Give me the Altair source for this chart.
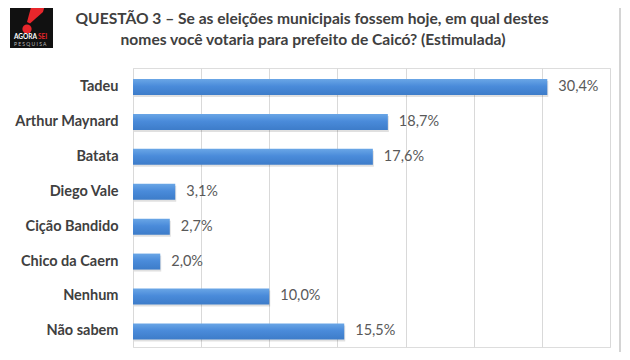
import altair as alt
import pandas as pd

categories = ["Tadeu", "Arthur Maynard", "Batata", "Diego Vale", "Cição Bandido",
              "Chico da Caern", "Nenhum", "Não sabem"]
values = [30.4, 18.7, 17.6, 3.1, 2.7, 2.0, 10.0, 15.5]
x_ticks = [0, 5, 10, 15, 20, 25, 30, 35]
title_line1 = "QUESTÃO 3 – Se as eleições municipais fossem hoje, em qual destes"
title_line2 = "nomes você votaria para prefeito de Caicó? (Estimulada)"

df = pd.DataFrame({"cat": categories, "v": values})
df["label"] = [f"{v:.1f}".replace(".", ",") + "%" for v in values]

W, H = 477, 279
PL, PT = 125, 60


def px(p):  # page x -> plot x
    return p - 8 - PL


def py(p):  # page y -> plot y
    return p - 8 - PT


x = alt.X("v:Q", scale=alt.Scale(domain=[0, 35], nice=False),
          axis=alt.Axis(values=x_ticks, labels=False, ticks=False, domain=False,
                        grid=True, gridColor="#d9d9d9", gridWidth=1, title=None))
yscale = alt.Scale(paddingInner=0.5, paddingOuter=0.247, align=0.6)
y = alt.Y("cat:N", sort=categories, scale=yscale,
          axis=alt.Axis(title=None, ticks=False, tickSize=0, domain=False, grid=False,
                        labelPadding=15, labelFont="Lato", labelFontWeight="bold",
                        labelFontSize=14.5, labelColor="#404040"))

grad = alt.Gradient(gradient="linear", x1=0, x2=0, y1=0, y2=1,
                    stops=[alt.GradientStop(color="#6aa6e6", offset=0),
                           alt.GradientStop(color="#4a8bda", offset=0.45),
                           alt.GradientStop(color="#3d7cc9", offset=1)])

base = alt.Chart(df)
shadow = base.mark_bar(size=16, color="#000000", opacity=0.12, yOffset=2, xOffset=1).encode(x=x, y=y)
bars = base.mark_bar(size=16, color=grad).encode(x=x, y=y)
labels = base.mark_text(align="left", dx=11, font="Lato", fontSize=14.5,
                        color="#595959", baseline="middle").encode(
    x="v:Q", y=alt.Y("cat:N", sort=categories, scale=yscale), text="label:N")

one = pd.DataFrame({"k": [0]})
t1 = alt.Chart(one).mark_text(text=title_line1, font="Lato", fontSize=15.6, fontWeight="bold",
                              color="#404040", align="center", baseline="alphabetic").encode(
    x=alt.value(px(312)), y=alt.value(py(24)))
t2 = alt.Chart(one).mark_text(text=title_line2, font="Lato", fontSize=15.6, fontWeight="bold",
                              color="#404040", align="center", baseline="alphabetic").encode(
    x=alt.value(px(313)), y=alt.value(py(45)))

logo_bg = alt.Chart(one).mark_rect(color="#111111").encode(
    x=alt.value(px(10)), x2=alt.value(px(53)), y=alt.value(py(0)), y2=alt.value(py(48)))
wedge = alt.Chart(one).mark_point(
    shape="M -0.05 -1.2 L 0.62 -1.2 L 0.45 -0.6 L -0.2 -0.02 L -0.35 -0.1 Z",
    size=1600, filled=True, color="#e8262b", opacity=1, strokeWidth=0).encode(
    x=alt.value(px(34)), y=alt.value(py(24)))
dot = alt.Chart(one).mark_point(shape="circle", size=85, filled=True, color="#e8262b",
                                opacity=1, strokeWidth=0).encode(
    x=alt.value(px(27)), y=alt.value(py(29)))
logo_t1 = alt.Chart(one).mark_text(text="AGORA", color="#ffffff", font="Lato",
                                   fontWeight="bold", fontSize=6.5, align="left").encode(
    x=alt.value(px(14)), y=alt.value(py(37)))
logo_t2 = alt.Chart(one).mark_text(text="SEI", color="#e8262b", font="Lato",
                                   fontWeight="bold", fontSize=6.5, align="left").encode(
    x=alt.value(px(38)), y=alt.value(py(37)))
logo_t3 = alt.Chart(one).mark_text(text="P E S Q U I S A", color="#bbbbbb", font="Lato",
                                   fontSize=5, align="left").encode(
    x=alt.value(px(14)), y=alt.value(py(44)))
border = alt.Chart(one).mark_rule(color="#d4d4d4", strokeWidth=2).encode(
    x=alt.value(px(620)), y=alt.value(-70), y2=alt.value(H + 20))

chart = alt.layer(shadow, bars, labels, t1, t2, logo_bg, wedge, dot, logo_t1, logo_t2,
                  logo_t3, border).properties(
    width=W, height=H,
    padding={"left": PL, "top": PT, "right": 12, "bottom": 5},
    autosize=alt.AutoSizeParams(type="none"),
).configure_view(stroke=None).configure(background="#ffffff")

chart.save("out.html", embed_options={"renderer": "svg", "actions": False})
